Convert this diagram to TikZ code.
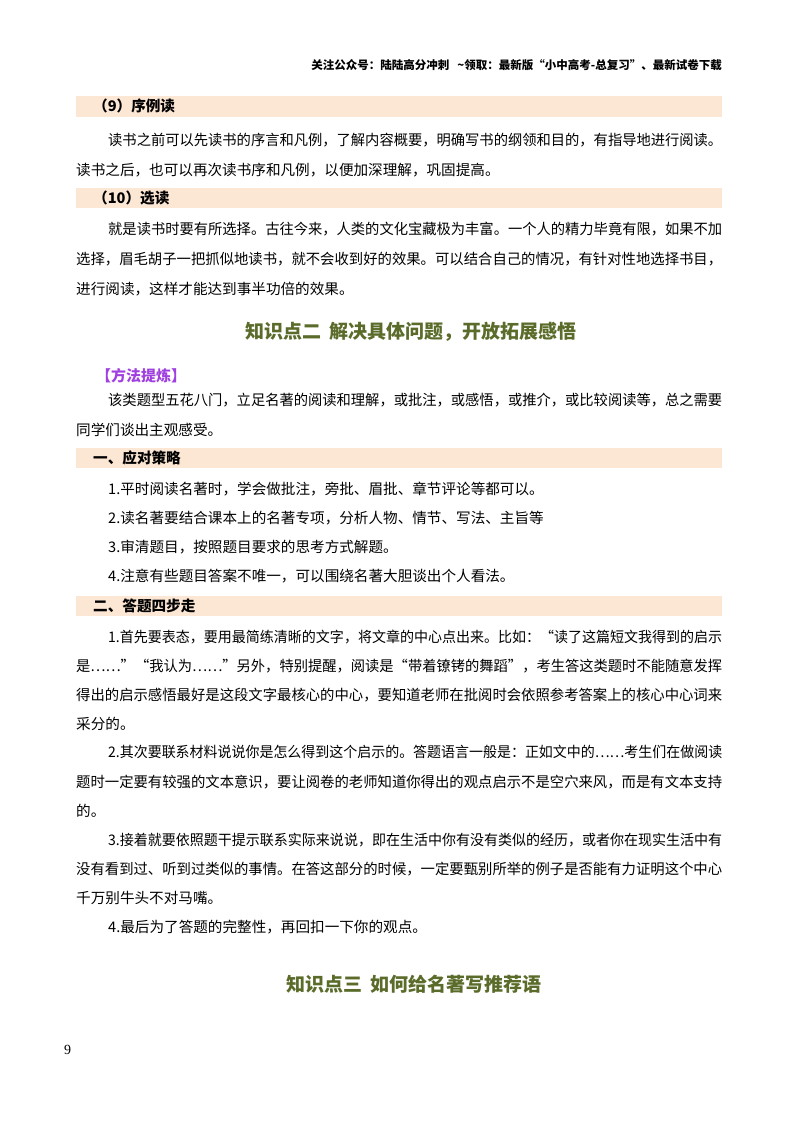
\documentclass[tikz,border=0pt]{standalone}
\usepackage{fontspec}
\usepackage{graphicx}
\setmainfont{Noto Sans CJK SC}
\definecolor{band}{HTML}{FCE6D4}
\definecolor{hgreen}{HTML}{5A6B2A}
\definecolor{purp}{HTML}{A040E0}
\newcommand{\fl}[2][646pt]{\resizebox{#1}{\height}{#2}}
\begin{document}
\begin{tikzpicture}[x=1pt,y=-1pt,
  tx/.style={anchor=west,inner sep=0pt,font=\fontsize{14.6}{16}\selectfont},
  bd/.style={anchor=west,inner sep=0pt,font=\fontsize{14.6}{16}\selectfont\bfseries},
  hd/.style={inner sep=0pt,font=\fontsize{19}{22}\selectfont\bfseries,text=hgreen},
  bandbox/.style={fill=band,draw=none}]
\useasboundingbox (0,0) rectangle (800,1132);
\fill[white] (0,0) rectangle (800,1132);
\node[anchor=east,inner sep=0pt,font=\fontsize{11.5}{13}\selectfont\bfseries] (hdr) at (722,65) {关注公众号：陆陆高分冲刺\ \ \ \textasciitilde 领取：最新版“小中高考-总复习”、最新试卷下载};
\fill[bandbox] (76,96) rectangle (722,117);
\node[bd] (b1) at (93,106) {（9）序例读};
\node[tx] (l1) at (108,140) {\fl[614pt]{读书之前可以先读书的序言和凡例，了解内容概要，明确写书的纲领和目的，有指导地进行阅读。}};
\node[tx] (l2) at (76,170) {读书之后，也可以再次读书序和凡例，以便加深理解，巩固提高。};
\fill[bandbox] (76,188) rectangle (722,208);
\node[bd] (b2) at (93,198) {（10）选读};
\node[tx] (l3) at (108,229) {\fl[614pt]{就是读书时要有所选择。古往今来，人类的文化宝藏极为丰富。一个人的精力毕竟有限，如果不加}};
\node[tx] (l4) at (76,259) {\fl{选择，眉毛胡子一把抓似地读书，就不会收到好的效果。可以结合自己的情况，有针对性地选择书目，}};
\node[tx] (l5) at (76,289) {进行阅读，这样才能达到事半功倍的效果。};
\node[hd] (h1) at (411,332) {知识点二\ \ 解决具体问题，开放拓展感悟};
\node[bd,text=purp,font=\fontsize{15}{17}\selectfont\bfseries] (m1) at (96,376) {【方法提炼】};
\node[tx] (l6) at (108,400) {\fl[614pt]{该类题型五花八门，立足名著的阅读和理解，或批注，或感悟，或推介，或比较阅读等，总之需要}};
\node[tx] (l7) at (76,430) {同学们谈出主观感受。};
\fill[bandbox] (76,448) rectangle (722,468);
\node[bd] (b3) at (93,458) {一、应对策略};
\node[tx] (l8) at (108,489) {1.平时阅读名著时，学会做批注，旁批、眉批、章节评论等都可以。};
\node[tx] (l9) at (108,518) {2.读名著要结合课本上的名著专项，分析人物、情节、写法、主旨等};
\node[tx] (l10) at (108,547) {3.审清题目，按照题目要求的思考方式解题。};
\node[tx] (l11) at (108,576) {4.注意有些题目答案不唯一，可以围绕名著大胆谈出个人看法。};
\fill[bandbox] (76,596) rectangle (722,616);
\node[bd] (b4) at (93,606) {二、答题四步走};
\node[tx] (p1) at (108,637) {\fl[614pt]{1.首先要表态，要用最简练清晰的文字，将文章的中心点出来。比如：“读了这篇短文我得到的启示}};
\node[tx] (p2) at (76,666) {\fl{是……”“我认为……”另外，特别提醒，阅读是“带着镣铐的舞蹈”，考生答这类题时不能随意发挥}};
\node[tx] (p3) at (76,695) {\fl{得出的启示感悟最好是这段文字最核心的中心，要知道老师在批阅时会依照参考答案上的核心中心词来}};
\node[tx] (p4) at (76,724) {采分的。};
\node[tx] (q1) at (108,752) {\fl[614pt]{2.其次要联系材料说说你是怎么得到这个启示的。答题语言一般是：正如文中的……考生们在做阅读}};
\node[tx] (q2) at (76,782) {\fl{题时一定要有较强的文本意识，要让阅卷的老师知道你得出的观点启示不是空穴来风，而是有文本支持}};
\node[tx] (q3) at (76,811) {的。};
\node[tx] (r1) at (108,840) {\fl[614pt]{3.接着就要依照题干提示联系实际来说说，即在生活中你有没有类似的经历，或者你在现实生活中有}};
\node[tx] (r2) at (76,869) {\fl{没有看到过、听到过类似的事情。在答这部分的时候，一定要甄别所举的例子是否能有力证明这个中心}};
\node[tx] (r3) at (76,898) {千万别牛头不对马嘴。};
\node[tx] (s1) at (108,927) {4.最后为了答题的完整性，再回扣一下你的观点。};
\node[hd] (h2) at (414,984) {知识点三\ \ 如何给名著写推荐语};
\node[anchor=west,inner sep=0pt,font=\fontspec{Liberation Serif}\fontsize{14}{16}\selectfont] (pg) at (64,1050) {9};
\end{tikzpicture}
\end{document}
